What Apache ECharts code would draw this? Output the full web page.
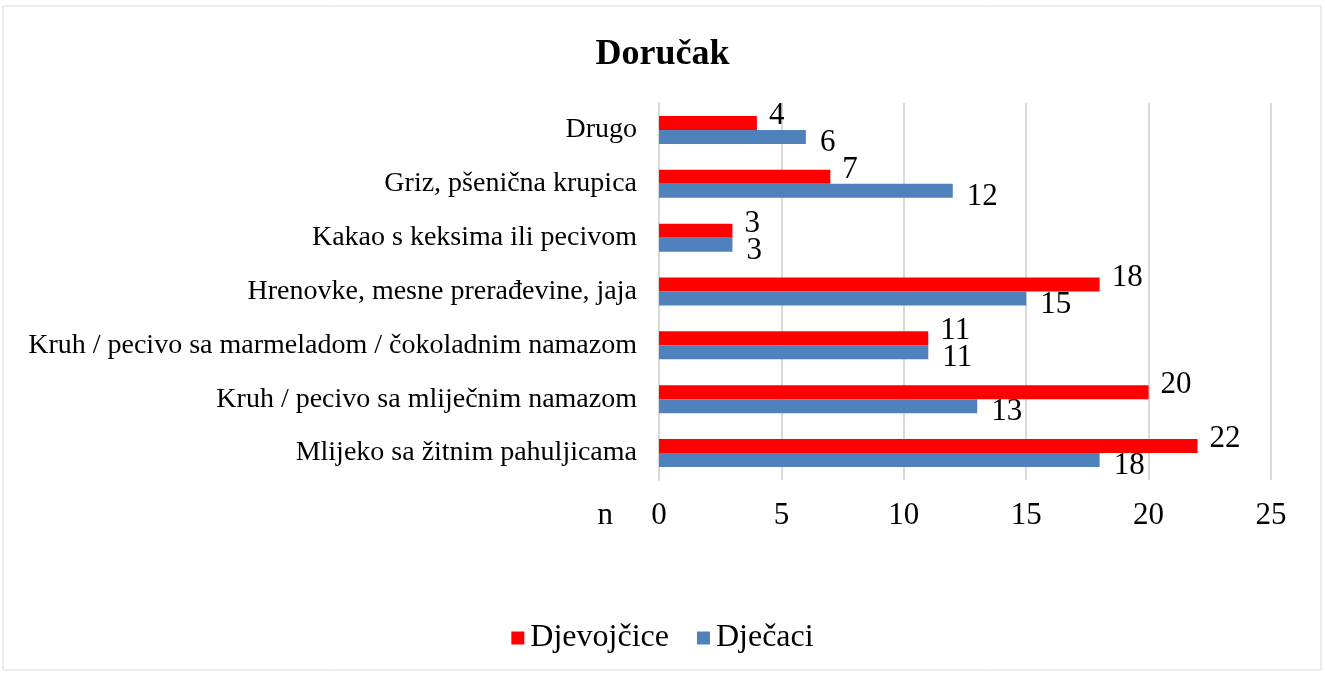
<!DOCTYPE html>
<html>
<head>
<meta charset="utf-8">
<script src="https://cdn.jsdelivr.net/npm/echarts@6/dist/echarts.min.js"></script>
<style>
  html, body { margin: 0; padding: 0; background: #ffffff; }
  #chart { width: 1325px; height: 673px; }
</style>
</head>
<body>
<div id="chart"></div>
<script>
  // kategorije odozdo prema gore (kao na osi)
  var categories = [
    'Mlijeko sa žitnim pahuljicama',
    'Kruh / pecivo sa mliječnim namazom',
    'Kruh / pecivo sa marmeladom / čokoladnim namazom',
    'Hrenovke, mesne prerađevine, jaja',
    'Kakao s keksima ili pecivom',
    'Griz, pšenična krupica',
    'Drugo'
  ];
  var djevojcice = [22, 20, 11, 18, 3, 7, 4];
  var djecaci = [18, 13, 11, 15, 3, 12, 6];
  var xTicks = [0, 5, 10, 15, 20, 25];

  var font = 'Liberation Serif';
  var chart = echarts.init(document.getElementById('chart'));
  chart.setOption({
    animation: false,
    textStyle: { fontFamily: font, color: '#000' },
    graphic: [{
      type: 'rect',
      shape: { x: 3, y: 6, width: 1318, height: 664 },
      style: { fill: 'none', stroke: '#d9d9d9', lineWidth: 1 }
    }],
    title: {
      text: 'Doručak',
      left: 'center',
      top: 32,
      textStyle: { fontFamily: font, fontSize: 36, fontWeight: 'bold', color: '#000' }
    },
    legend: {
      bottom: 14,
      left: 'center',
      itemWidth: 13,
      itemHeight: 13,
      itemGap: 28,
      icon: 'rect',
      data: ['Djevojčice', 'Dječaci'],
      textStyle: { fontFamily: font, fontSize: 32, color: '#000', padding: [0, 0, 0, 1] }
    },
    grid: { left: 659, right: 54, top: 103, bottom: 193 },
    xAxis: {
      type: 'value',
      min: xTicks[0],
      max: xTicks[xTicks.length - 1],
      interval: 5,
      name: 'n',
      nameLocation: 'start',
      nameGap: 46,
      nameTextStyle: { fontFamily: font, fontSize: 31, color: '#000', verticalAlign: 'top', padding: [20, 0, 0, 0] },
      axisLine: { show: false },
      axisTick: { show: false },
      axisLabel: { fontFamily: font, fontSize: 31, color: '#000', margin: 20 },
      splitLine: { lineStyle: { color: '#d9d9d9', width: 2 } }
    },
    yAxis: {
      type: 'category',
      data: categories,
      axisLine: { lineStyle: { color: '#d9d9d9', width: 2 } },
      axisTick: { show: false },
      axisLabel: { fontFamily: font, fontSize: 28, color: '#000', margin: 22 }
    },
    series: [
      {
        name: 'Djevojčice',
        type: 'bar',
        data: djevojcice,
        barWidth: 14,
        barGap: '0%',
        itemStyle: { color: '#ff0000' },
        label: {
          show: true, position: 'right', distance: 12, offset: [0, -7],
          fontFamily: font, fontSize: 31, color: '#000'
        }
      },
      {
        name: 'Dječaci',
        type: 'bar',
        data: djecaci,
        barWidth: 14,
        barGap: '0%',
        itemStyle: { color: '#4f81bd' },
        label: {
          show: true, position: 'right', distance: 14, offset: [0, 6],
          fontFamily: font, fontSize: 31, color: '#000'
        }
      }
    ]
  });
</script>
</body>
</html>
